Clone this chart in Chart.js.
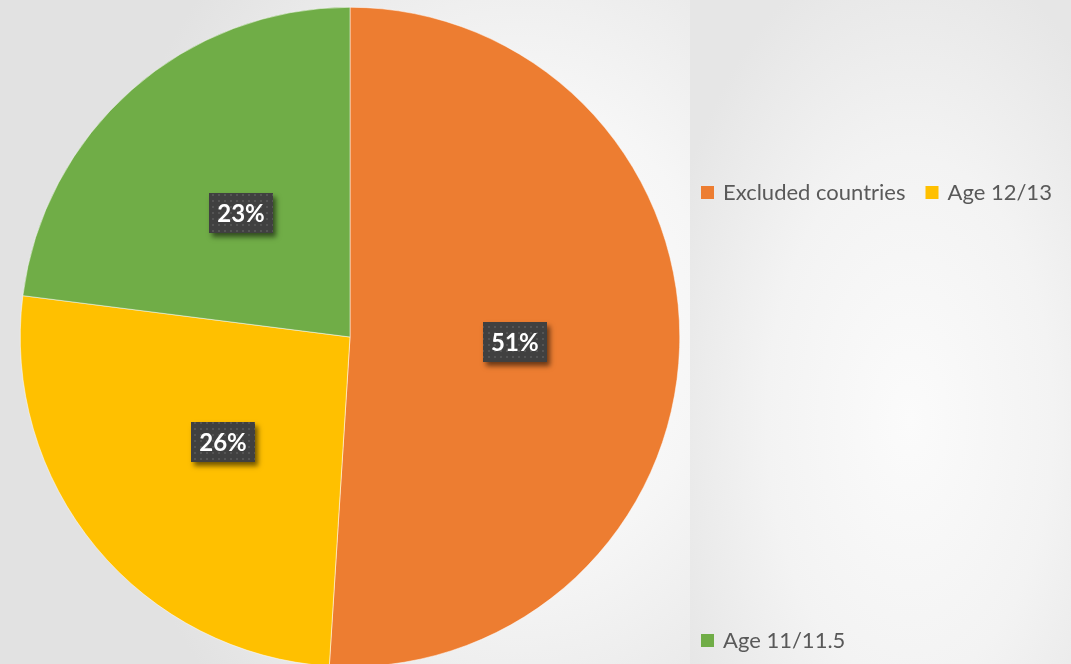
<!DOCTYPE html>
<html>
<head>
<meta charset="utf-8">
<script src="https://cdn.jsdelivr.net/npm/chart.js@4"></script>
<style>
  html, body { margin: 0; padding: 0; width: 1071px; height: 664px; overflow: hidden; }
  body {
    background:
      radial-gradient(ellipse 420px 520px at 520px 330px, #ffffff 0%, #f6f6f6 45%, #e2e2e2 100%);
    position: relative;
  }
  #right-panel {
    position: absolute; left: 690px; top: 0; width: 381px; height: 664px;
    background: radial-gradient(ellipse 260px 480px at 220px 420px, #fbfbfb 0%, #f3f3f3 55%, #e6e6e6 100%);
  }
  #wrap { position: absolute; left: 0; top: 0; width: 1071px; height: 700px; }
</style>
</head>
<body>
<div id="right-panel"></div>
<div id="wrap"><canvas id="pieChart" width="1071" height="700"></canvas></div>
<script>
// 分类与数值
const categories = ['Excluded countries', 'Age 12/13', 'Age 11/11.5'];
const shares = [51, 26, 23];
const sliceColors = ['#ED7D31', '#FFC000', '#70AD47'];

// 标签框的点状背景
function makeDotPattern(ctx) {
  const c = document.createElement('canvas');
  c.width = 6; c.height = 6;
  const p = c.getContext('2d');
  p.fillStyle = '#404040';
  p.fillRect(0, 0, 6, 6);
  p.fillStyle = '#545454';
  p.fillRect(2, 2, 2, 2);
  return ctx.createPattern(c, 'repeat');
}

const labelBoxes = {
  id: 'labelBoxes',
  afterDatasetsDraw(chart) {
    const ctx = chart.ctx;
    const meta = chart.getDatasetMeta(0);
    const pattern = makeDotPattern(ctx);
    ctx.save();
    ctx.font = 'bold 24px Lato, "Open Sans", sans-serif';
    meta.data.forEach((arc, i) => {
      const pos = arc.tooltipPosition();
      const text = shares[i] + '%';
      const w = 64, h = 40;
      const x = Math.round(pos.x - w / 2), y = Math.round(pos.y - h / 2);
      ctx.save();
      ctx.shadowColor = 'rgba(0,0,0,0.55)';
      ctx.shadowBlur = 5;
      ctx.shadowOffsetX = 3;
      ctx.shadowOffsetY = 4;
      ctx.fillStyle = '#404040';
      ctx.fillRect(x, y, w, h);
      ctx.restore();
      ctx.fillStyle = pattern;
      ctx.fillRect(x, y, w, h);
      ctx.fillStyle = '#ffffff';
      ctx.textAlign = 'center';
      ctx.textBaseline = 'middle';
      ctx.fillText(text, pos.x, pos.y + 1);
    });
    ctx.restore();
  }
};

// 图例: 前两项一行，第三项在底部
const customLegend = {
  id: 'customLegend',
  afterDraw(chart) {
    const ctx = chart.ctx;
    const rows = [
      { y: 192, items: [0, 1] },
      { y: 640, items: [2] }
    ];
    ctx.save();
    ctx.font = '22px Lato, "Open Sans", sans-serif';
    ctx.textBaseline = 'middle';
    rows.forEach(row => {
      let x = 701;
      row.items.forEach(i => {
        ctx.fillStyle = sliceColors[i];
        ctx.fillRect(x, row.y - 6, 13, 13);
        x += 22;
        ctx.fillStyle = '#595959';
        ctx.fillText(categories[i], x, row.y + 1);
        x += ctx.measureText(categories[i]).width + 20;
      });
    });
    ctx.restore();
  }
};

const ctx = document.getElementById('pieChart').getContext('2d');
new Chart(ctx, {
  type: 'pie',
  data: {
    labels: categories,
    datasets: [{
      data: shares,
      backgroundColor: sliceColors,
      borderColor: '#ffffff',
      borderWidth: 0.5
    }]
  },
  options: {
    responsive: false,
    animation: false,
    layout: { padding: { left: 20, top: 7, right: 391, bottom: 33 } },
    plugins: {
      legend: { display: false },
      tooltip: { enabled: false }
    }
  },
  plugins: [labelBoxes, customLegend]
});
</script>
</body>
</html>
